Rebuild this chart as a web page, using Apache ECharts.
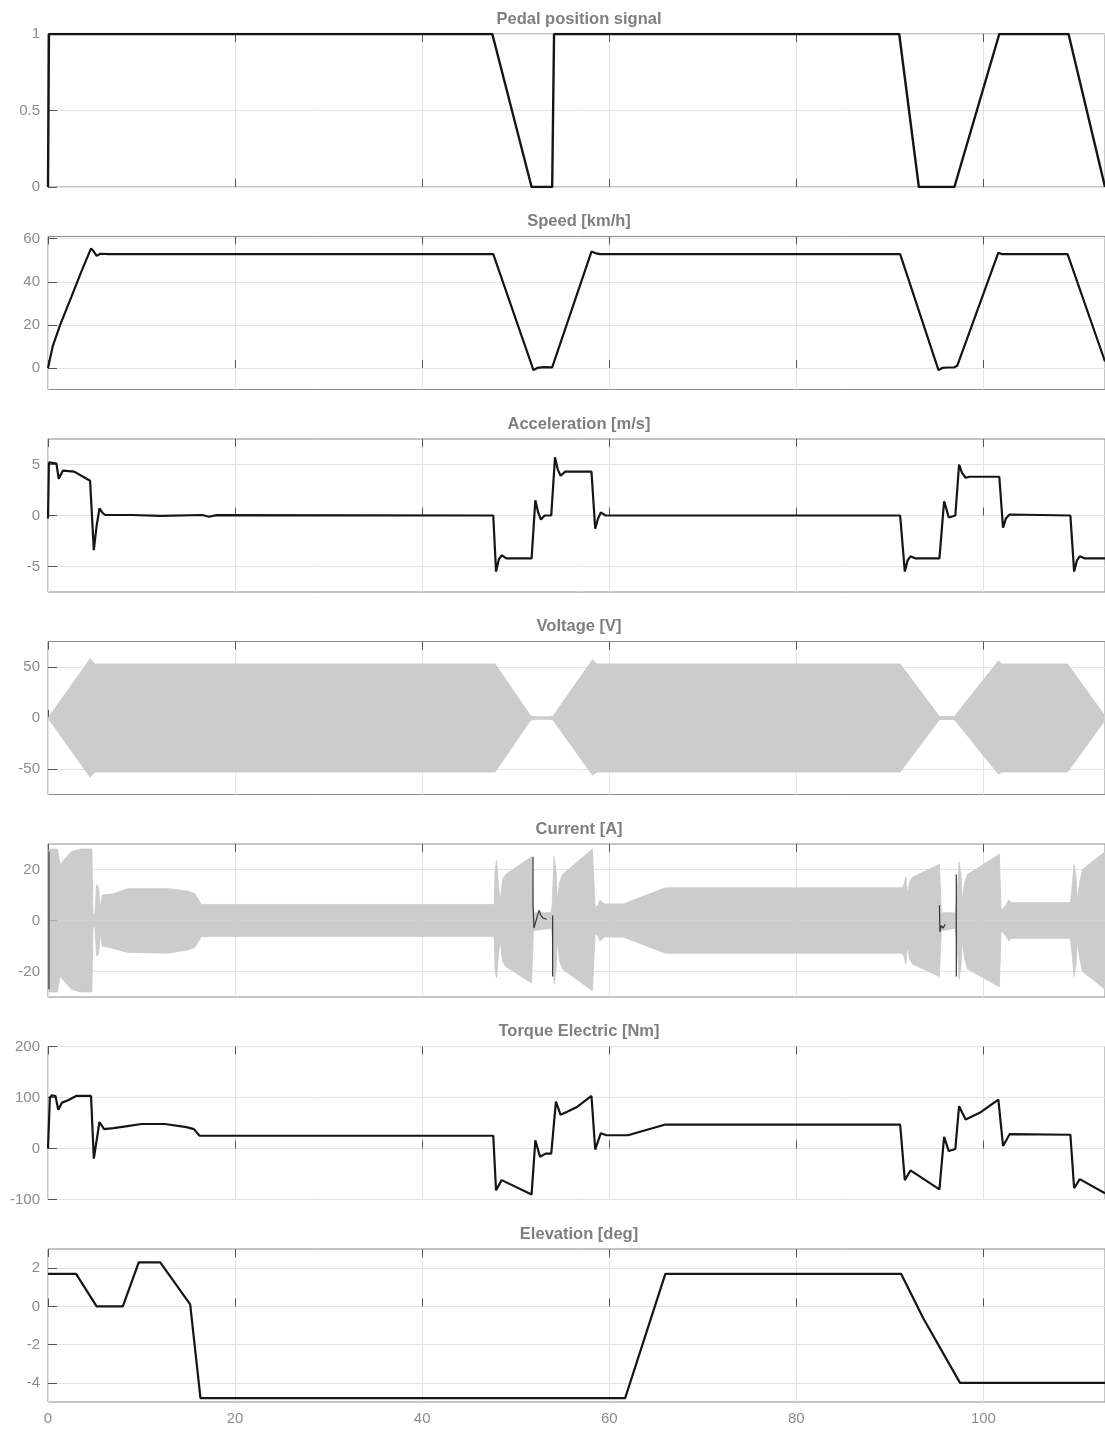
<!DOCTYPE html>
<html><head><meta charset="utf-8">
<script src="https://cdn.jsdelivr.net/npm/echarts@6/dist/echarts.min.js"></script>
<style>html,body{margin:0;padding:0;background:#fff}#c{width:1105px;height:1432px}</style>
</head><body><div id="c"></div>
<script>
// ---------- DATA ----------
const titles = ['Pedal position signal','Speed [km/h]','Acceleration [m/s]','Voltage [V]','Current [A]','Torque Electric [Nm]','Elevation [deg]'];
const xTicks = [0,20,40,60,80,100];
const yRanges = [[0,1],[-10,61],[-7.5,7.5],[-75,75],[-30,30],[-100,200],[-5,3]];
const yTicksPedal = [0,0.5,1];
const yTicksSpeed = [0,20,40,60];
const yTicksAccel = [-5,0,5];
const yTicksVoltage = [-50,0,50];
const yTicksCurrent = [-20,0,20];
const yTicksTorque = [-100,0,100,200];
const yTicksElev = [-4,-2,0,2];

const pedalSignal = [[0,0],[0.1,1],[47.5,1],[51.7,0],[53.9,0],[54.1,1],[91.0,1],[93.1,0],[96.9,0],[101.7,1],[109.1,1],[113,0]];

const speed = [[0,0],[0.5,10],[1.3,20],[2.5,33],[3.5,44],[4.6,55.5],[4.9,54],[5.2,52],[5.6,53],[6.5,52.8],[47.6,52.8],[51.9,-1],[52.3,0],[53.0,0.4],[53.9,0.3],[54.1,1],[58.1,54],[58.5,53.3],[59.0,52.8],[91.1,52.8],[95.2,-1],[95.6,0],[96.2,0.2],[96.9,0.3],[97.2,1],[101.6,53.5],[102.0,52.8],[109.0,52.8],[113,3]];

const accel = [[0,-0.3],[0.1,5.2],[0.25,5.3],[0.9,5.1],[1.15,3.6],[1.6,4.4],[2.8,4.3],[4.5,3.4],[4.6,3.3],[4.9,-3.4],[5.2,-1.0],[5.5,0.7],[5.8,0.3],[6.1,0.05],[9,0.05],[12,-0.03],[16.5,0.05],[17.2,-0.12],[18,0.03],[47.6,0],[47.9,-5.5],[48.2,-4.3],[48.5,-3.9],[49.0,-4.2],[51.7,-4.2],[52.1,1.5],[52.4,0.3],[52.7,-0.4],[53.1,0],[53.8,0],[54.2,5.7],[54.5,4.5],[54.8,3.9],[55.3,4.3],[58.1,4.3],[58.5,-1.3],[58.8,-0.3],[59.1,0.3],[59.6,0],[91.1,0],[91.6,-5.5],[91.9,-4.4],[92.2,-4.0],[92.7,-4.2],[95.3,-4.2],[95.8,1.4],[96.0,0.8],[96.3,-0.2],[97.0,0],[97.4,5.0],[97.7,4.2],[98.1,3.7],[98.5,3.8],[101.7,3.8],[102.1,-1.2],[102.4,-0.3],[102.8,0.1],[109.3,0],[109.7,-5.5],[110.0,-4.4],[110.3,-4.0],[110.8,-4.2],[113,-4.2]];

const voltageUpper = [[0,0],[4.5,58],[5.0,53],[47.8,53],[51.6,2],[52.3,1.2],[53.6,1.2],[54.0,2],[58.2,57],[58.7,53],[91.1,53],[95.3,1.5],[96.9,1.5],[101.6,56],[102.0,53],[109.0,53],[113,2]];
const voltageLower = [[0,0],[4.5,-58],[5.0,-53],[47.8,-53],[51.6,-2],[52.3,-1.2],[53.6,-1.2],[54.0,-2],[58.2,-56],[58.7,-53],[91.1,-53],[95.3,-1.5],[96.9,-1.5],[101.6,-55],[102.0,-53],[109.0,-53],[113,-2]];

const currentUpper = [[0,0],[0.1,28],[1.0,28],[1.3,22],[2.5,27],[3.5,28],[4.7,28],[4.8,3],[5.0,2],[5.2,14],[5.4,13],[5.6,5],[5.8,10],[7.0,10.5],[8.5,12.5],[12.8,12.5],[15.0,11.5],[15.7,10.5],[16.4,6.3],[47.7,6.3],[47.8,20],[47.95,23.5],[48.2,12],[48.35,8],[48.6,16],[48.9,18],[51.7,25],[51.85,25],[51.9,3],[53.8,3],[53.9,6],[54.1,25],[54.3,20],[54.45,8],[54.7,15],[55.0,18],[58.2,28],[58.35,28],[58.5,5],[58.8,6],[59.0,8],[59.2,8],[59.5,6.5],[61.5,6.5],[66.0,12.8],[91.3,12.8],[91.5,14],[91.7,17],[91.9,10],[92.1,15],[92.4,17],[95.3,22],[95.4,22],[95.5,3],[97.0,3],[97.2,10],[97.4,23],[97.6,18],[97.75,8],[98.0,15],[98.3,18],[101.7,26],[101.8,26],[101.9,4],[102.4,6],[102.7,8],[103.0,7],[109.3,7],[109.5,14],[109.7,22],[109.9,17],[110.05,8],[110.3,15],[110.6,20],[113,27]];
const currentLower = [[0,0],[0.1,-28],[1.0,-28],[1.3,-22],[2.5,-27],[3.5,-28],[4.7,-28],[4.8,-3],[5.0,-2],[5.2,-14],[5.4,-13],[5.6,-5],[5.8,-10],[7.0,-11],[8.5,-12.5],[12.8,-12.8],[15.0,-11.5],[15.7,-10.5],[16.4,-6.3],[47.7,-6.3],[47.8,-20],[47.95,-22.5],[48.2,-12],[48.35,-8],[48.6,-16],[48.9,-18],[51.7,-24.5],[51.85,-24.5],[51.9,-4],[53.8,-3],[53.9,-6],[54.1,-25],[54.3,-20],[54.45,-8],[54.7,-16],[55.0,-19],[58.2,-27.5],[58.35,-27.5],[58.5,-5],[58.8,-6],[59.0,-8],[59.2,-8],[59.5,-6.5],[61.5,-6.5],[66.0,-12.8],[91.3,-12.8],[91.5,-14],[91.7,-17],[91.9,-10],[92.1,-15],[92.4,-17],[95.3,-22],[95.4,-22],[95.5,-4],[97.0,-3],[97.2,-10],[97.4,-23],[97.6,-18],[97.75,-8],[98.0,-15],[98.3,-19],[101.7,-26],[101.8,-26],[101.9,-4],[102.4,-6],[102.7,-8],[103.0,-7],[109.3,-7],[109.5,-14],[109.7,-22],[109.9,-17],[110.05,-8],[110.3,-15],[110.6,-20],[113,-27]];
const currentTrace = [[0.1,27],[0.1,-27],[0.12,'-'],[51.85,25],[51.85,6],[51.95,-3],[52.1,-2.5],[52.3,1.5],[52.5,4],[52.7,2],[52.9,1],[53.3,0.5],[53.5,'-'],[53.95,2],[53.95,-22],[54.0,'-'],[95.3,6],[95.35,-4.5],[95.5,-2],[95.7,-3],[95.9,-1.5],[96.1,'-'],[97.1,18],[97.1,-22],[97.2,'-']];

const torque = [[0,0],[0.2,100],[0.4,104],[0.8,103],[1.1,76],[1.5,90],[2.2,95],[3.0,103],[4.6,103],[4.9,-20],[5.5,52],[6.0,38],[7.0,40],[8.5,44],[10,48],[12.5,48],[14.8,42],[15.6,38],[16.2,25],[47.6,25],[47.9,-82],[48.5,-62],[51.7,-90],[52.1,16],[52.6,-16],[53.2,-10],[53.8,-10],[54.3,92],[54.8,66],[55.5,72],[56.6,82],[58.1,103],[58.5,-2],[59.1,30],[59.7,26],[62.0,26],[66.0,47],[91.1,47],[91.6,-62],[92.2,-43],[95.3,-80],[95.8,23],[96.3,-5],[97.0,-1],[97.4,83],[98.1,57],[99.6,70],[101.6,96],[102.1,5],[102.8,28],[109.3,27],[109.7,-78],[110.3,-60],[113,-88]];

const elevation = [[0,1.7],[3.0,1.7],[5.2,0],[8.0,0],[9.7,2.3],[12.0,2.3],[15.2,0.1],[16.3,-4.8],[61.7,-4.8],[66.0,1.7],[91.2,1.7],[93.6,-0.65],[97.5,-4],[113,-4]];

// ---------- LAYOUT / STYLE ----------
const yTickSets = [yTicksPedal,yTicksSpeed,yTicksAccel,yTicksVoltage,yTicksCurrent,yTicksTorque,yTicksElev];
const FONT = '"Liberation Sans", Arial, Helvetica, sans-serif';
const LEFT = 48, TOP0 = 34, STEP = 202.5, H = 153;
const grids = [], xAxes = [], yAxes = [], graphics = [];
for (let i = 0; i < 7; i++) {
  const top = TOP0 + i * STEP;
  grids.push({left: LEFT, right: -2, top: top, height: H, show: true, borderColor: '#8a8a8a', borderWidth: 1, backgroundColor: '#fff'});
  xAxes.push({
    type: 'value', gridIndex: i, min: 0, max: 113, position: 'bottom',
    axisLine: {show: false},
    axisTick: {show: true, inside: true, length: 8, customValues: xTicks, lineStyle: {color: '#555'}},
    axisLabel: {show: i === 6, customValues: xTicks, color: '#8c8c8c', fontSize: 15, fontFamily: FONT, margin: 9},
    splitLine: {show: true, lineStyle: {color: '#e3e3e3', width: 1}}
  });
  yAxes.push({
    type: 'value', gridIndex: i, min: yRanges[i][0], max: yRanges[i][1],
    axisLine: {show: false},
    axisTick: {show: true, inside: true, length: 9, customValues: yTickSets[i], lineStyle: {color: '#555'}},
    axisLabel: {customValues: yTickSets[i], color: '#8c8c8c', fontSize: 15, fontFamily: FONT, margin: 8,
      formatter: v => String(v)},
    splitLine: {show: true, lineStyle: {color: '#e3e3e3', width: 1}}
  });
  graphics.push({type: 'text', x: 579, y: top - 15, z: 100,
    style: {text: titles[i], fill: '#7f7f7f', fontSize: 16.5, fontWeight: 'bold', fontFamily: FONT, align: 'center', verticalAlign: 'middle'}});
}
for (let i = 0; i < 7; i++) {
  xAxes.push({
    type: 'value', gridIndex: i, min: 0, max: 113, position: 'top',
    axisLine: {show: false},
    axisTick: {show: true, inside: true, length: 8, customValues: xTicks, lineStyle: {color: '#555'}},
    axisLabel: {show: false}, splitLine: {show: false}
  });
}

function lineSeries(data, idx, color, width, z) {
  return {type: 'line', data: data, xAxisIndex: idx, yAxisIndex: idx, showSymbol: false, symbol: 'none',
    lineStyle: {color: color, width: width}, z: z || 3, animation: false, connectNulls: false};
}
function bandSeries(data, idx) {
  return {type: 'line', data: data, xAxisIndex: idx, yAxisIndex: idx, showSymbol: false, symbol: 'none',
    lineStyle: {color: '#c9c9c9', width: 0.8}, areaStyle: {color: '#cccccc', opacity: 1, origin: 0}, z: 2, animation: false};
}

const series = [
  lineSeries(pedalSignal, 0, '#151515', 2.4),
  lineSeries(speed, 1, '#151515', 2.2),
  lineSeries(accel, 2, '#151515', 2.2),
  bandSeries(voltageUpper, 3),
  bandSeries(voltageLower, 3),
  bandSeries(currentUpper, 4),
  bandSeries(currentLower, 4),
  lineSeries(currentTrace, 4, '#333', 1.2, 4),
  lineSeries(torque, 5, '#151515', 2.2),
  lineSeries(elevation, 6, '#151515', 2.2)
];

const chart = echarts.init(document.getElementById('c'), null, {renderer: 'canvas'});
chart.setOption({
  backgroundColor: '#ffffff',
  animation: false,
  grid: grids, xAxis: xAxes, yAxis: yAxes,
  graphic: graphics,
  series: series
});
</script>
</body></html>
